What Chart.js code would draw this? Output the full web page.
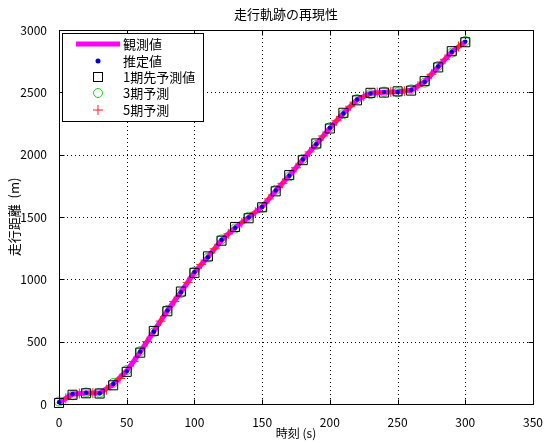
<!DOCTYPE html>
<html>
<head>
<meta charset="utf-8">
<script src="https://cdn.jsdelivr.net/npm/chart.js@4"></script>
<style>
  html, body { margin: 0; padding: 0; background: #fff; }
  canvas { display: block; }
</style>
</head>
<body>
<canvas id="chart" width="546" height="443"></canvas>
<script>
// --- data ---
const times = [0, 10, 20, 30, 40, 50, 60, 70, 80, 90, 100, 110, 120, 130, 140, 150,
  160, 170, 180, 190, 200, 210, 220, 230, 240, 250, 260, 270, 280, 290, 300];
const observed = [12, 78, 88, 88, 158, 266, 418, 582, 748, 898, 1056, 1180, 1314, 1415, 1495, 1582,
  1710, 1832, 1960, 2085, 2213, 2332, 2440, 2492, 2500, 2505, 2517, 2585, 2705, 2825, 2905];
const estimated = [14, 80, 90, 86, 160, 262, 420, 580, 750, 896, 1058, 1178, 1316, 1412, 1497, 1580,
  1712, 1830, 1962, 2083, 2215, 2330, 2442, 2490, 2502, 2503, 2519, 2583, 2707, 2823, 2907];
const pred1 = [8, 74, 86, 84, 150, 258, 412, 586, 744, 902, 1052, 1184, 1310, 1420, 1490, 1578,
  1706, 1836, 1956, 2090, 2210, 2336, 2436, 2496, 2498, 2508, 2514, 2590, 2700, 2830, 2902];
const pred3 = [20, 70, 92, 90, 168, 272, 424, 575, 755, 890, 1062, 1175, 1320, 1408, 1502, 1575,
  1718, 1825, 1966, 2078, 2220, 2325, 2446, 2486, 2506, 2500, 2524, 2578, 2712, 2818, 2912];
const times5 = [5, 15, 25, 35, 45, 55, 65, 75, 85, 95, 105, 115, 125, 135, 145, 155,
  165, 175, 185, 195, 205, 215, 225, 235, 245, 255, 265, 275, 285, 295];
const pred5 = [45, 84, 88, 115, 205, 340, 500, 665, 822, 975, 1120, 1245, 1365, 1455, 1538, 1645,
  1770, 1895, 2022, 2150, 2272, 2388, 2468, 2498, 2503, 2510, 2550, 2645, 2765, 2868];

const xTicks = [0, 50, 100, 150, 200, 250, 300, 350];
const yTicks = [0, 500, 1000, 1500, 2000, 2500, 3000];
const legendLabels = ["観測値", "推定値", "1期先予測値", "3期予測", "5期予測"];

const toPoints = (xs, ys) => xs.map((x, i) => ({ x, y: ys[i] }));
const JP = '"Noto Sans CJK JP", sans-serif';

// --- matlab-ish frame: dotted grid, box, inward ticks, legend, title ---
const frame = {
  id: "frame",
  beforeDatasetsDraw(chart) {
    const { ctx, chartArea: a, scales: { x, y } } = chart;
    ctx.save();
    ctx.strokeStyle = "#000";
    ctx.lineWidth = 1;
    ctx.setLineDash([1, 3]);
    xTicks.slice(1, -1).forEach((v) => {
      const px = Math.round(x.getPixelForValue(v)) + 0.5;
      ctx.beginPath(); ctx.moveTo(px, a.top); ctx.lineTo(px, a.bottom); ctx.stroke();
    });
    yTicks.slice(1, -1).forEach((v) => {
      const py = Math.round(y.getPixelForValue(v)) + 0.5;
      ctx.beginPath(); ctx.moveTo(a.left, py); ctx.lineTo(a.right, py); ctx.stroke();
    });
    ctx.setLineDash([]);
    ctx.restore();
  },
  afterDatasetsDraw(chart) {
    const { ctx, chartArea: a, scales: { x, y } } = chart;
    ctx.save();
    ctx.strokeStyle = "#000";
    ctx.lineWidth = 1;
    const L = Math.round(a.left) + 0.5, R = Math.round(a.right) + 0.5;
    const T = Math.round(a.top) + 0.5, B = Math.round(a.bottom) + 0.5;
    ctx.strokeRect(L, T, R - L, B - T);
    ctx.beginPath();
    xTicks.forEach((v) => {
      const px = Math.round(x.getPixelForValue(v)) + 0.5;
      ctx.moveTo(px, B); ctx.lineTo(px, B - 5);
      ctx.moveTo(px, T); ctx.lineTo(px, T + 5);
    });
    yTicks.forEach((v) => {
      const py = Math.round(y.getPixelForValue(v)) + 0.5;
      ctx.moveTo(L, py); ctx.lineTo(L + 5, py);
      ctx.moveTo(R, py); ctx.lineTo(R - 5, py);
    });
    ctx.stroke();

    // legend
    ctx.fillStyle = "#fff";
    ctx.fillRect(62.5, 33.5, 141, 88);
    ctx.strokeRect(62.5, 33.5, 141, 88);
    const rows = [44, 61, 77, 93, 110];
    const mx = 98;
    ctx.font = "13px " + JP;
    ctx.textBaseline = "middle";
    ctx.textAlign = "left";
    rows.forEach((ry, i) => {
      ctx.fillStyle = "#000";
      ctx.fillText(legendLabels[i], 123, ry);
    });
    // observed line
    ctx.strokeStyle = "#ff00ff";
    ctx.lineWidth = 5;
    ctx.beginPath(); ctx.moveTo(76, rows[0]); ctx.lineTo(120, rows[0]); ctx.stroke();
    // estimated dot
    ctx.fillStyle = "#0000c8";
    ctx.beginPath(); ctx.arc(mx, rows[1], 2.5, 0, Math.PI * 2); ctx.fill();
    // square
    ctx.lineWidth = 1;
    ctx.strokeStyle = "#000";
    ctx.strokeRect(mx - 4.5, rows[2] - 4.5, 9, 9);
    // circle
    ctx.strokeStyle = "#22cc22";
    ctx.beginPath(); ctx.arc(mx, rows[3], 4.5, 0, Math.PI * 2); ctx.stroke();
    // plus
    ctx.strokeStyle = "#ff2020";
    ctx.beginPath();
    ctx.moveTo(mx - 5, rows[4]); ctx.lineTo(mx + 5, rows[4]);
    ctx.moveTo(mx, rows[4] - 5); ctx.lineTo(mx, rows[4] + 5);
    ctx.stroke();

    // title
    ctx.fillStyle = "#000";
    ctx.font = "13px " + JP;
    ctx.textAlign = "center";
    ctx.fillText("走行軌跡の再現性", 286, 14);
    ctx.restore();
  }
};

new Chart(document.getElementById("chart"), {
  type: "scatter",
  data: {
    datasets: [
      {
        label: legendLabels[1],
        data: toPoints(times, estimated),
        pointStyle: "circle",
        pointRadius: 2.2,
        backgroundColor: "#0000c8",
        borderColor: "#0000c8",
        borderWidth: 0,
        order: 0,
        clip: false
      },
      {
        label: legendLabels[2],
        data: toPoints(times, pred1),
        pointStyle: "rect",
        pointRadius: 6.4,
        backgroundColor: "rgba(0,0,0,0)",
        borderColor: "#000",
        borderWidth: 1,
        order: 1,
        clip: false
      },
      {
        label: legendLabels[4],
        data: toPoints(times5, pred5),
        pointStyle: "cross",
        pointRadius: 5,
        borderColor: "#ff2020",
        borderWidth: 1,
        order: 2,
        clip: false
      },
      {
        label: legendLabels[0],
        data: toPoints(times, observed),
        showLine: true,
        borderColor: "#ff00ff",
        borderWidth: 5,
        pointRadius: 0,
        order: 3,
        clip: false
      },
      {
        label: legendLabels[3],
        data: toPoints(times, pred3),
        pointStyle: "circle",
        pointRadius: 4.5,
        backgroundColor: "rgba(0,0,0,0)",
        borderColor: "#22cc22",
        borderWidth: 1,
        order: 4,
        clip: false
      }
    ]
  },
  options: {
    responsive: false,
    animation: false,
    devicePixelRatio: 1,
    layout: { padding: { top: 30, right: 11, left: 0, bottom: 0 } },
    plugins: { legend: { display: false }, title: { display: false }, tooltip: { enabled: false } },
    scales: {
      x: {
        type: "linear",
        min: 0,
        max: 350,
        afterBuildTicks: (s) => { s.ticks = xTicks.map((v) => ({ value: v })); },
        afterFit: (s) => { s.height = 39; },
        grid: { display: false },
        border: { display: false },
        ticks: { padding: 3, color: "#000", font: { family: JP, size: 12 }, maxRotation: 0, callback: (v) => String(v) },
        title: { display: true, text: "時刻 (s)", color: "#000", font: { family: JP, size: 12 }, padding: 2 }
      },
      y: {
        type: "linear",
        min: 0,
        max: 3000,
        afterBuildTicks: (s) => { s.ticks = yTicks.map((v) => ({ value: v })); },
        afterFit: (s) => { s.width = 59; },
        grid: { display: false },
        border: { display: false },
        ticks: { padding: 4, color: "#000", font: { family: JP, size: 12 }, callback: (v) => String(v) },
        title: { display: true, text: "走行距離  (m)", color: "#000", font: { family: JP, size: 13 }, padding: 6 }
      }
    }
  },
  plugins: [frame]
});
</script>
</body>
</html>
